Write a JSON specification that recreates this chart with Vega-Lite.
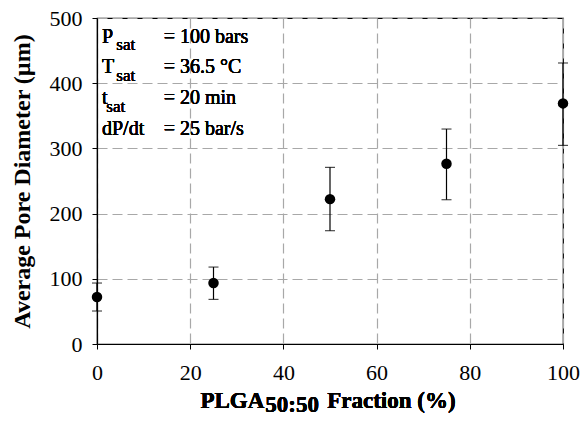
{
  "$schema": "https://vega.github.io/schema/vega-lite/v6.json",
  "autosize": "none",
  "padding": {"left": 97, "top": 18, "right": 18, "bottom": 78},
  "width": 466,
  "height": 326,
  "background": "white",
  "config": {
    "view": {"stroke": "black", "strokeWidth": 1.2},
    "font": "Liberation Serif",
    "axis": {
      "labelFont": "Liberation Serif",
      "labelFontSize": 22,
      "labelColor": "black",
      "titleFont": "Liberation Serif",
      "titleColor": "black",
      "titleFontWeight": "bold",
      "titleFontSize": 24,
      "domainColor": "black",
      "domainWidth": 1.2,
      "tickColor": "black",
      "tickSize": 5,
      "gridColor": "#a8a8a8",
      "gridDash": [10, 5],
      "gridWidth": 1.2,
      "labelFlush": false,
      "labelOverlap": false,
      "labelBound": false
    }
  },
  "data": {
    "values": [
      {"fraction": 0, "diameter": 72, "lo": 50.6, "hi": 93.5},
      {"fraction": 25, "diameter": 93.5, "lo": 68.4, "hi": 118},
      {"fraction": 50, "diameter": 222.2, "lo": 173.8, "hi": 270.9},
      {"fraction": 75, "diameter": 276.5, "lo": 221.3, "hi": 329.7},
      {"fraction": 100, "diameter": 369, "lo": 304.6, "hi": 431}
    ]
  },
  "encoding": {
    "x": {
      "field": "fraction",
      "type": "quantitative",
      "scale": {"domain": [0, 100], "nice": false, "zero": false},
      "axis": {"values": [0, 20, 40, 60, 80, 100], "title": null, "labelPadding": 13}
    }
  },
  "layer": [
    {
      "mark": {"type": "rule", "color": "black", "strokeWidth": 1.2},
      "encoding": {
        "y": {
          "field": "lo",
          "type": "quantitative",
          "scale": {"domain": [0, 500], "nice": false},
          "axis": {
            "values": [0, 100, 200, 300, 400, 500],
            "title": "Average Pore Diameter (µm)",
            "titleX": -68,
            "titleY": 163,
            "titleAngle": 270,
            "titleAlign": "center",
            "titleBaseline": "alphabetic",
            "labelPadding": 10
          }
        },
        "y2": {"field": "hi"}
      }
    },
    {
      "mark": {"type": "tick", "orient": "horizontal", "color": "black", "size": 10, "thickness": 1.2},
      "encoding": {"y": {"field": "lo", "type": "quantitative"}}
    },
    {
      "mark": {"type": "tick", "orient": "horizontal", "color": "black", "size": 10, "thickness": 1.2},
      "encoding": {"y": {"field": "hi", "type": "quantitative"}}
    },
    {
      "mark": {"type": "point", "filled": true, "shape": "circle", "color": "black", "opacity": 1, "size": 110},
      "encoding": {"y": {"field": "diameter", "type": "quantitative"}}
    },
    {
      "mark": {"type": "text", "align": "left", "baseline": "alphabetic", "fontSize": 20, "color": "black", "lineHeight": 30.7},
      "encoding": {
        "x": {"datum": 1.07},
        "y": {"datum": 462},
        "text": {"value": ["P", "T", "t", "dP/dt"]}
      }
    },
    {
      "mark": {"type": "text", "align": "left", "baseline": "alphabetic", "fontSize": 17, "color": "black", "lineHeight": 31},
      "encoding": {
        "x": {"datum": 4.15},
        "y": {"datum": 451.4},
        "text": {"value": ["sat", "sat"]}
      }
    },
    {
      "mark": {"type": "text", "align": "left", "baseline": "alphabetic", "fontSize": 17, "color": "black"},
      "encoding": {
        "x": {"datum": 1.99},
        "y": {"datum": 356.3},
        "text": {"value": "sat"}
      }
    },
    {
      "mark": {"type": "text", "align": "left", "baseline": "alphabetic", "fontSize": 20, "color": "black", "lineHeight": 30.7},
      "encoding": {
        "x": {"datum": 14.3},
        "y": {"datum": 462},
        "text": {"value": ["= 100 bars", "= 36.5 °C", "= 20 min", "= 25 bar/s"]}
      }
    },
    {
      "mark": {"type": "text", "align": "right", "baseline": "alphabetic", "fontSize": 23, "fontWeight": "bold", "color": "black"},
      "encoding": {
        "x": {"datum": 35.9},
        "y": {"datum": -98.2},
        "text": {"value": "PLGA"}
      }
    },
    {
      "mark": {"type": "text", "align": "left", "baseline": "alphabetic", "fontSize": 23, "fontWeight": "bold", "color": "black"},
      "encoding": {
        "x": {"datum": 36.1},
        "y": {"datum": -104.6},
        "text": {"value": "50:50"}
      }
    },
    {
      "mark": {"type": "text", "align": "left", "baseline": "alphabetic", "fontSize": 23, "fontWeight": "bold", "color": "black"},
      "encoding": {
        "x": {"datum": 49.4},
        "y": {"datum": -98.2},
        "text": {"value": "Fraction (%)"}
      }
    }
  ]
}
